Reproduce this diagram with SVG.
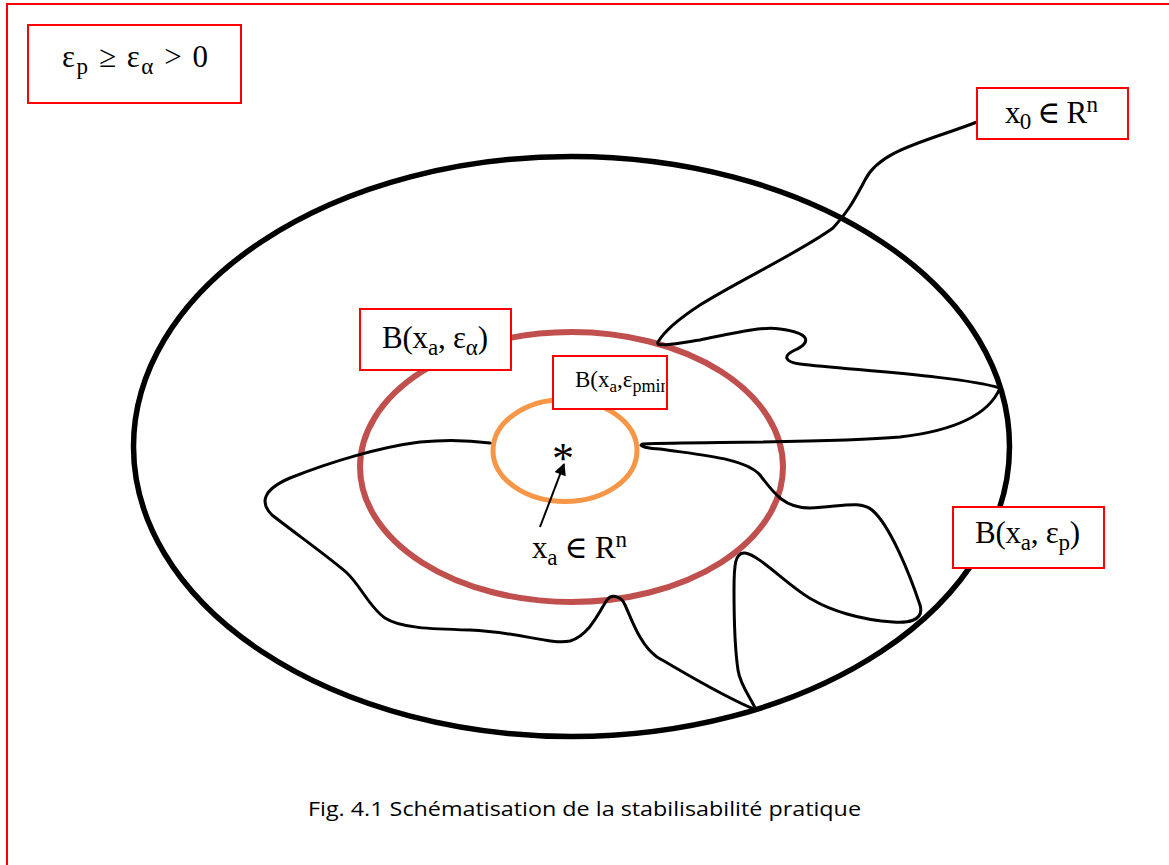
<svg xmlns="http://www.w3.org/2000/svg" width="1169" height="865" viewBox="0 0 1169 865">
<style>
.box{fill:#fff;stroke:#ff0000;stroke-width:2}
.m{font-family:"Liberation Serif","DejaVu Serif",serif;font-size:31px;fill:#000}
.cap{font-family:"Open Sans","Liberation Sans",sans-serif;font-size:20px;fill:#000}
.traj{fill:none;stroke:#000;stroke-width:3;stroke-linejoin:round;stroke-linecap:round}
</style>
<defs>
<clipPath id="clipMin"><rect x="554" y="357" width="111" height="51"/></clipPath>
<marker id="ah" viewBox="0 0 10 10" refX="9" refY="5" markerWidth="7" markerHeight="6" orient="auto" markerUnits="strokeWidth"><path d="M0,0 L10,5 L0,10 z" fill="#000"/></marker>
</defs>
<rect width="1169" height="865" fill="#fff"/>
<rect id="frame" x="7" y="4" width="1175" height="880" fill="none" stroke="#ff0000" stroke-width="2"/>

<g id="outer-ball">
<ellipse cx="571.5" cy="446.5" rx="438" ry="290" fill="none" stroke="#000" stroke-width="5.5"/>
</g>
<g id="ball-alpha">
<ellipse cx="571.5" cy="467" rx="211.5" ry="135" fill="none" stroke="#C0504D" stroke-width="6"/>
</g>
<g id="ball-pmin">
<ellipse cx="565" cy="450.5" rx="72" ry="51" fill="none" stroke="#F79646" stroke-width="5"/>
</g>

<g id="connectors">
<path class="traj" d="M977,122 C925,142 880,150 865,180 C852,205 845,215 833,228 C800,252 740,280 700,305 C680,318 665,330 658,342 C655,348 680,343 700,340 C730,334 760,326 780,329 C810,333 812,342 795,350 C782,356 785,362 800,364 C850,370 960,376 1000,388 C990,412 960,430 900,437 C830,443 700,442 643,444 C636,446 650,449 660,449 C700,455 745,458 760,475 C775,495 785,508 810,508 C840,507 860,500 872,510 C890,525 910,575 920,605 C925,622 905,623 893,622 C860,620 830,610 813,600 C790,588 760,555 745,553 C735,552 734,565 734,590 C734,620 735,650 738,670 C740,685 752,700 756,710 C720,695 680,670 657,657 C640,645 632,620 625,605 C622,597 612,593 607,600 C600,610 590,635 570,641 C550,645 520,632 470,630 C430,629 400,628 385,618 C370,608 360,585 347,573 C334,561 295,533 272,515 C260,503 262,490 290,478 C330,462 380,447 420,442 C450,439 475,441 490,443"/>
<line x1="540" y1="527" x2="564" y2="464" stroke="#000" stroke-width="2" marker-end="url(#ah)"/>
</g>

<g id="cond">
<rect class="box" x="28" y="25" width="213" height="78"/>
<text class="m" x="62" y="67" textLength="146" lengthAdjust="spacing">ε<tspan font-size="23" dy="7">p</tspan><tspan dy="-7"> ≥ ε</tspan><tspan font-size="23" dy="7">α</tspan><tspan dy="-7"> &gt; 0</tspan></text>
</g>

<g id="x0">
<rect class="box" x="977" y="88" width="151" height="51"/>
<text class="m" x="1005" y="123" textLength="93" lengthAdjust="spacing">x<tspan font-size="23" dy="6">0</tspan><tspan dy="-6"> ∈ R</tspan><tspan font-size="23" dy="-11">n</tspan></text>
</g>

<g id="label-alpha">
<rect class="box" x="360" y="309" width="151" height="61"/>
<text class="m" x="382" y="348" textLength="106" lengthAdjust="spacing">B(x<tspan font-size="23" dy="7">a</tspan><tspan dy="-7">, ε</tspan><tspan font-size="23" dy="7">α</tspan><tspan dy="-7">)</tspan></text>
</g>

<g id="label-pmin">
<rect class="box" x="553" y="356" width="114" height="53"/>
<g clip-path="url(#clipMin)">
<text class="m" x="575" y="387" style="font-size:23px">B(x<tspan style="font-size:17px" dy="5">a</tspan><tspan dy="-5">,ε</tspan><tspan style="font-size:18px" dy="5">pmin)</tspan></text>
</g>
</g>

<g id="label-p">
<rect class="box" x="953" y="507" width="151" height="61"/>
<text class="m" x="975" y="543" textLength="105" lengthAdjust="spacing">B(x<tspan font-size="23" dy="7">a</tspan><tspan dy="-7">, ε</tspan><tspan font-size="23" dy="7">p</tspan><tspan dy="-7">)</tspan></text>
</g>

<g id="center">
<text class="m" x="563" y="473" text-anchor="middle" style="font-size:44px">*</text>
</g>

<g id="label-xa">
<text class="m" x="532" y="558" textLength="95" lengthAdjust="spacing">x<tspan font-size="23" dy="7">a</tspan><tspan dy="-7"> ∈ R</tspan><tspan font-size="23" dy="-11">n</tspan></text>
</g>

<g id="caption">
<text class="cap" x="308" y="816" textLength="553" lengthAdjust="spacingAndGlyphs">Fig. 4.1 Schématisation de la stabilisabilité pratique</text>
</g>
</svg>
